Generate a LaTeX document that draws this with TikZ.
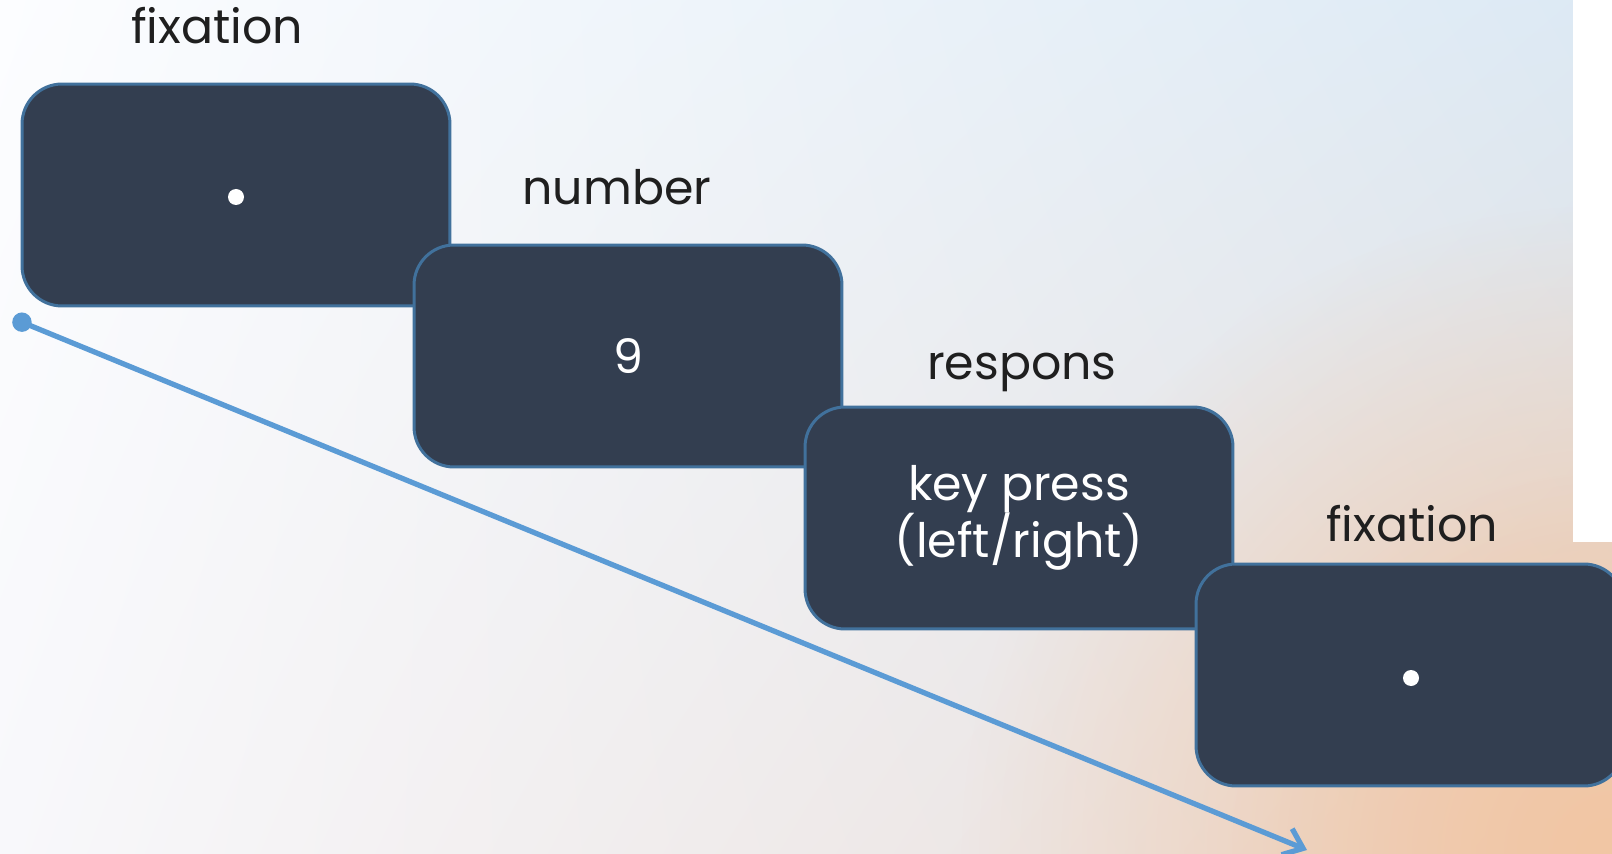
\documentclass[tikz,border=0pt]{standalone}
\usepackage{fontspec}
\setmainfont{Poppins}
\usetikzlibrary{arrows.meta,shadings,fadings}
\definecolor{boxfill}{HTML}{333E50}
\definecolor{boxline}{HTML}{41719C}
\definecolor{arrowc}{HTML}{5B9BD5}
\definecolor{bgUL}{HTML}{FCFDFF}
\definecolor{bgUR}{HTML}{DCE9F4}
\definecolor{bgLL}{HTML}{F8F8FB}
\definecolor{bgLR}{HTML}{E6DCD8}
\definecolor{peach}{HTML}{F2C6A4}
\tikzfading[name=softglow, inner color=transparent!0, outer color=transparent!100]
\tikzset{
  stagebox/.style={draw=boxline, line width=1.7pt, fill=boxfill, rounded corners=0.8cm,
    minimum width=8.56cm, minimum height=4.44cm, inner sep=0pt,
    text=white, font=\fontsize{27}{32.5}\selectfont, align=center},
  stagelabel/.style={anchor=base, text=black!88, font=\fontsize{27}{32.5}\selectfont, inner sep=0pt},
  timeline/.style={draw=arrowc, line width=3pt,
    {Circle[length=11pt]}-{Straight Barb[length=10pt, width=16pt, line width=3pt]}},
  fixdot/.style={circle, fill=white, minimum size=0.32cm, inner sep=0pt}
}
\begin{document}
\begin{tikzpicture}[x=0.02cm, y=-0.02cm]
\useasboundingbox (0,0) rectangle (1612,854);
\clip (0,0) rectangle (1612,854);
% background
\shade[upper left=bgUL, upper right=bgUR, lower left=bgLL, lower right=bgLR] (0,0) rectangle (1612,854);
\fill[peach, path fading=softglow] (1612,854) circle (650);
\fill[peach, path fading=softglow, opacity=0.6] (1612,854) circle (380);
\fill[white] (1573,0) rectangle (1612,542);
% labels
\node[stagelabel] (l1) at (217,44) {fixation};
\node[stagelabel] (l2) at (617,205) {number};
\node[stagelabel] (l3) at (1022,380) {respons};
\node[stagelabel] (l4) at (1412,541) {fixation};
% boxes
\node[stagebox] (b1) at (236,195) {};
\node[fixdot] (d1) at (236,197) {};
\node[stagebox] (b2) at (628,356) {9};
\node[stagebox] (b3) at (1019,518) {key press\\(left/right)};
\node[stagebox] (b4) at (1410,675) {};
\node[fixdot] (d4) at (1411,678) {};
% time arrow
\coordinate (tstart) at (13,318.5);
\coordinate (tend) at (1307,850);
\draw[timeline] (tstart) -- (tend);
\end{tikzpicture}
\end{document}
